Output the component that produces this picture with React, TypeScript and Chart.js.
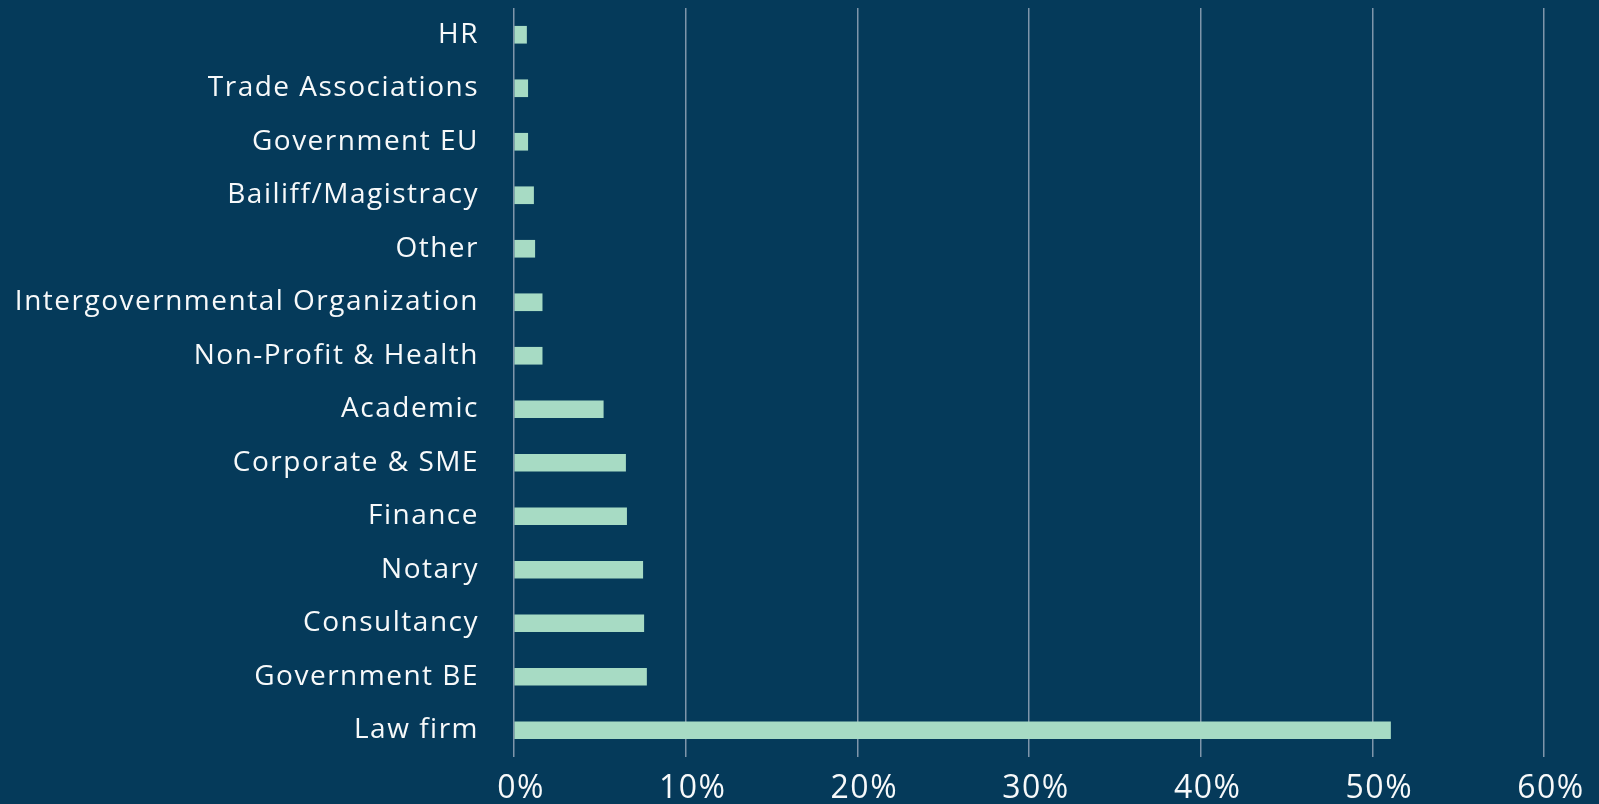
import React, { useEffect, useRef } from "react";
import { Chart, registerables } from "chart.js";

Chart.register(...registerables);

const categories = [
  "HR",
  "Trade Associations",
  "Government EU",
  "Bailiff/Magistracy",
  "Other",
  "Intergovernmental Organization",
  "Non-Profit & Health",
  "Academic",
  "Corporate & SME",
  "Finance",
  "Notary",
  "Consultancy",
  "Government BE",
  "Law firm",
];

const shareValues = [0.73, 0.8, 0.8, 1.14, 1.21, 1.64, 1.64, 5.2, 6.5, 6.56, 7.5, 7.56, 7.72, 51.06];

const xTickValues = [0, 10, 20, 30, 40, 50, 60];

const BG = "#053a5a";
const BAR = "#a7dbc4";
const GRID = "#7f95aa";
const TEXT = "#f7f9fa";
const FONT = "'Open Sans', sans-serif";

const spacingPlugin = {
  id: "letterSpacing",
  beforeUpdate: (chart: any) => {
    chart.ctx.letterSpacing = "1.5px";
  },
  afterLayout: (chart: any) => {
    const xs = chart.scales.x;
    if (xs && !xs.__shifted) {
      const orig = xs.drawLabels;
      xs.drawLabels = function (area: any) {
        const ctx = this.ctx;
        ctx.save();
        ctx.translate(7, 0);
        orig.call(this, area);
        ctx.restore();
      };
      xs.__shifted = true;
    }
  },
  beforeDraw: (chart: any) => {
    chart.ctx.letterSpacing = "1.5px";
  },
};

export default function App() {
  const ref = useRef<HTMLCanvasElement | null>(null);

  useEffect(() => {
    document.body.style.margin = "0";
    document.body.style.background = BG;
    const canvas = ref.current!;
    const chart = new Chart(canvas, {
      type: "bar",
      data: {
        labels: categories,
        datasets: [
          {
            data: shareValues,
            backgroundColor: BAR,
            borderWidth: 0,
            barThickness: 17,
          },
        ],
      },
      plugins: [spacingPlugin],
      options: {
        indexAxis: "y",
        responsive: false,
        animation: false,
        layout: { padding: { top: 8, right: 55, left: 0, bottom: 0 } },
        plugins: { legend: { display: false }, tooltip: { enabled: false } },
        scales: {
          x: {
            min: 0,
            max: 60,
            afterBuildTicks: (s: any) => {
              s.ticks = xTickValues.map((v) => ({ value: v }));
            },
            afterFit: (s: any) => {
              s.height = 47;
              s.paddingLeft = 0;
              s.paddingRight = 0;
            },
            grid: { color: GRID, lineWidth: 1.5, drawTicks: false },
            border: { display: false },
            ticks: {
              color: TEXT,
              font: { family: FONT, size: 32 },
              padding: 13,
              callback: (v: any) => `${v}%`,
            },
          },
          y: {
            afterFit: (s: any) => {
              s.width = 514;
              s.paddingTop = 0;
              s.paddingBottom = 0;
            },
            grid: { display: false, drawTicks: false },
            border: { display: false },
            ticks: {
              color: TEXT,
              font: { family: FONT, size: 28 },
              padding: 35,
            },
          },
        },
      },
    });
    return () => chart.destroy();
  }, []);

  return (
    <div style={{ position: "absolute", left: 0, top: 0, width: 1599, height: 804, background: BG }}>
      <canvas ref={ref} width={1599} height={804} style={{ display: "block" }} />
    </div>
  );
}
